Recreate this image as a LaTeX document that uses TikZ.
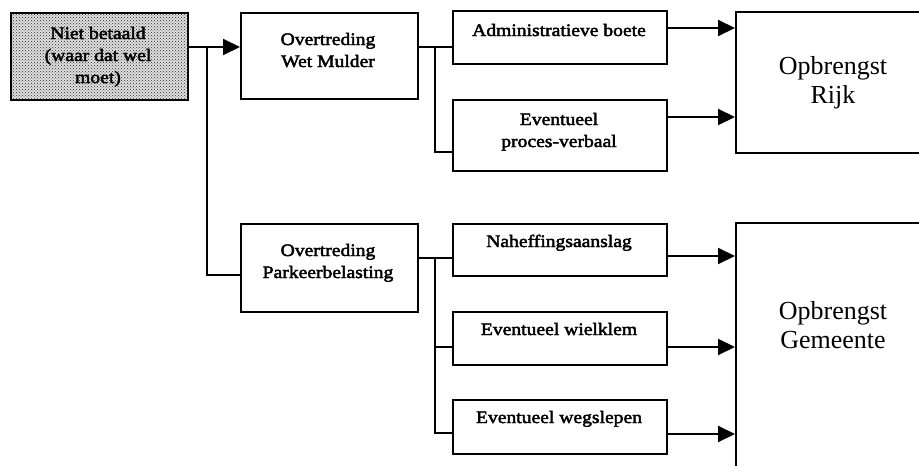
\documentclass[tikz,border=0pt]{standalone}
\usepackage{fontspec}
\setmainfont{Liberation Serif}
\newfontfamily\lblfont{Liberation Serif}[FakeStretch=1.12, FakeBold=2.5]
\usetikzlibrary{arrows.meta,patterns}

\tikzset{
  box/.style={draw, line width=2pt, inner sep=0pt, anchor=north west},
  shaded/.style={box, fill=black!12, postaction={pattern=crosshatch dots, pattern color=black!85}},
  lbl/.style={anchor=base, align=center, inner sep=0pt,
    font=\lblfont\fontsize{17.5}{22}\selectfont},
  big/.style={anchor=base, align=center, inner sep=0pt,
    font=\fontsize{26}{29}\selectfont},
  wire/.style={line width=2pt},
  arr/.style={wire, -{Triangle[length=17pt,width=16pt]}},
}

\begin{document}
\begin{tikzpicture}[x=1pt, y=-1pt]
  \clip (0,0) rectangle (919,466);
  \fill[white] (0,0) rectangle (919,466);

  % boxes
  \node[shaded, minimum width=177pt, minimum height=87pt] (niet) at (10,12) {};
  \node[box, minimum width=177pt, minimum height=86pt] (mulder) at (240,12) {};
  \node[box, minimum width=177pt, minimum height=88pt] (parkeer) at (240,223) {};
  \node[box, minimum width=214pt, minimum height=53pt] (adm) at (452,10) {};
  \node[box, minimum width=214pt, minimum height=71pt] (pv) at (452,99) {};
  \node[box, minimum width=214pt, minimum height=52pt] (nah) at (452,223) {};
  \node[box, minimum width=214pt, minimum height=53pt] (wiel) at (452,311) {};
  \node[box, minimum width=214pt, minimum height=54pt] (weg) at (452,399) {};
  \node[box, minimum width=200pt, minimum height=141pt] (rijk) at (735,11) {};
  \node[box, minimum width=200pt, minimum height=280pt] (gem) at (735,222) {};

  % labels (base = baseline of the last line)
  \node[lbl] (niet-t) at (98,83) {Niet betaald\\(waar dat wel\\moet)};
  \node[lbl] (mulder-t) at (328,67) {Overtreding\\Wet Mulder};
  \node[lbl] (parkeer-t) at (328,278) {Overtreding\\Parkeerbelasting};
  \node[lbl] (adm-t) at (559,36) {Administratieve boete};
  \node[lbl] (pv-t) at (559,147) {Eventueel\\proces-verbaal};
  \node[lbl] (nah-t) at (559,247) {Naheffingsaanslag};
  \node[lbl] (wiel-t) at (559,335) {Eventueel wielklem};
  \node[lbl] (weg-t) at (559,423) {Eventueel wegslepen};
  \node[big] (rijk-t) at (833,103) {Opbrengst\\Rijk};
  \node[big] (gem-t) at (833,348) {Opbrengst\\Gemeente};

  % junction points of the branching lines
  \coordinate (j1) at (207,47);
  \coordinate (j1b) at (207,275);
  \coordinate (j2) at (435,47);
  \coordinate (j2b) at (435,152);
  \coordinate (j3) at (435,258);
  \coordinate (j3b) at (435,347);
  \coordinate (j3c) at (435,433);
  % arrow entry points on the revenue boxes
  \coordinate (r1) at (735,28);
  \coordinate (r2) at (735,117);
  \coordinate (g1) at (735,256);
  \coordinate (g2) at (735,347);
  \coordinate (g3) at (735,434);

  % first split
  \draw[arr] (niet.east |- j1) -- (mulder.west |- j1);
  \draw[wire] (j1) -- (j1b) -- (parkeer.west |- j1b);

  % Wet Mulder branch
  \draw[wire] (mulder.east |- j2) -- (adm.west |- j2);
  \draw[wire] (j2) -- (j2b) -- (pv.west |- j2b);

  % Parkeerbelasting branch
  \draw[wire] (parkeer.east |- j3) -- (nah.west |- j3);
  \draw[wire] (j3) -- (j3c) -- (weg.west |- j3c);
  \draw[wire] (j3b) -- (wiel.west |- j3b);

  % revenue arrows
  \draw[arr] (adm.east |- r1) -- (r1);
  \draw[arr] (pv.east |- r2) -- (r2);
  \draw[arr] (nah.east |- g1) -- (g1);
  \draw[arr] (wiel.east |- g2) -- (g2);
  \draw[arr] (weg.east |- g3) -- (g3);
\end{tikzpicture}
\end{document}
